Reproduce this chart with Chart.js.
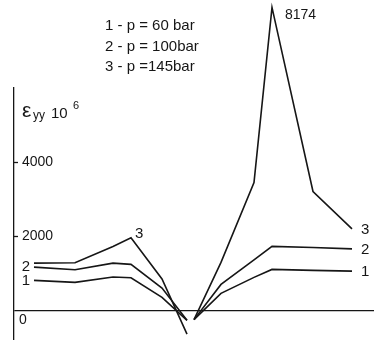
<!DOCTYPE html>
<html>
<head>
<meta charset="utf-8">
<script src="https://cdn.jsdelivr.net/npm/chart.js@4/dist/chart.umd.min.js"></script>
<style>
  html, body { margin: 0; padding: 0; background: #fff; }
  #wrap { width: 374px; height: 340px; position: relative; }
</style>
</head>
<body>
<div id="wrap"><canvas id="chart"></canvas></div>
<script>
// Gauge positions along the section (left and right of the gap)
const positionsLeft  = [20, 61, 99, 117, 148, 173];
const positionsRight = [180, 207, 240, 258, 299, 338];

// Strain eps_yy * 10^6 at each gauge
const series1Left  = [809, 755, 898, 881, 350, -270];
const series1Right = [-250, 458, 890, 1105, 1078, 1059];
const series2Left  = [1167, 1097, 1275, 1240, 600, -270];
const series2Right = [-250, 700, 1364, 1725, 1698, 1658];
const series3Left  = [1275, 1286, 1725, 1960, 846, -640];
const series3Right = [-250, 1294, 3450, 8174, 3208, 2197];

const seriesNames = ['1', '2', '3'];
const legendLines = ['1 - p = 60 bar', '2 - p = 100bar', '3 - p =145bar'];
const yTickValues = [0, 2000, 4000];
const peakLabel = '8174';

const FONT = '"Liberation Sans", Arial, sans-serif';
const INK = '#161616';

function buildPoints(posL, valL, posR, valR) {
  const pts = posL.map((x, i) => ({ x: x, y: valL[i] }));
  // break between the two halves
  pts.push({ x: (posL[posL.length - 1] + posR[0]) / 2, y: null });
  posR.forEach((x, i) => pts.push({ x: x, y: valR[i] }));
  return pts;
}

const lineStyle = {
  borderColor: INK,
  borderWidth: 1.6,
  pointRadius: 0,
  tension: 0,
  fill: false,
  spanGaps: false,
  clip: false
};

const datasets = [
  Object.assign({ label: seriesNames[0], data: buildPoints(positionsLeft, series1Left, positionsRight, series1Right) }, lineStyle),
  Object.assign({ label: seriesNames[1], data: buildPoints(positionsLeft, series2Left, positionsRight, series2Right) }, lineStyle),
  Object.assign({ label: seriesNames[2], data: buildPoints(positionsLeft, series3Left, positionsRight, series3Right) }, lineStyle)
];

// Text, tick marks and series numbers drawn on top of the plot
const annotations = {
  id: 'annotations',
  afterDraw(chart) {
    const { ctx, scales: { x, y } } = chart;
    ctx.save();
    ctx.fillStyle = INK;
    ctx.strokeStyle = INK;

    // short tick marks on the axis
    ctx.lineWidth = 1.3;
    yTickValues.filter(v => v !== 0).forEach(v => {
      const py = Math.round(y.getPixelForValue(v)) + 0.5;
      ctx.beginPath();
      ctx.moveTo(x.left - 1, py);
      ctx.lineTo(x.left + 4, py);
      ctx.stroke();
    });

    // zero label sits under the base line
    ctx.font = '14px ' + FONT;
    ctx.textAlign = 'left';
    ctx.textBaseline = 'middle';
    ctx.fillText('0', x.left + 5, y.getPixelForValue(0) + 10);

    // pressure key
    ctx.font = '15px ' + FONT;
    legendLines.forEach((t, i) => ctx.fillText(t, 105, 26 + i * 20.5));

    // axis title: eps_yy 10^6
    ctx.textBaseline = 'alphabetic';
    ctx.font = '21px ' + FONT;
    ctx.fillText('\u03B5', 22, 117);
    ctx.font = '12px ' + FONT;
    ctx.fillText('yy', 33, 119);
    ctx.font = '15px ' + FONT;
    ctx.fillText('10', 51, 118);
    ctx.font = '11px ' + FONT;
    ctx.fillText('6', 73, 109);

    // series numbers at the line ends
    ctx.font = '15px ' + FONT;
    ctx.textBaseline = 'middle';
    const lastR = positionsRight.length - 1;
    const rightEnds = [series1Right[lastR], series2Right[lastR], series3Right[lastR]];
    rightEnds.forEach((v, i) => {
      ctx.textAlign = 'left';
      ctx.fillText(seriesNames[i], x.getPixelForValue(positionsRight[lastR]) + 9, y.getPixelForValue(v) + 1);
    });
    ctx.textAlign = 'right';
    ctx.fillText(seriesNames[1], x.getPixelForValue(positionsLeft[0]) - 4, y.getPixelForValue(series2Left[0]));
    ctx.fillText(seriesNames[0], x.getPixelForValue(positionsLeft[0]) - 4, y.getPixelForValue(series1Left[0]));

    // "3" beside the left maximum of series 3
    const iMax = series3Left.indexOf(Math.max(...series3Left));
    ctx.textAlign = 'left';
    ctx.fillText(seriesNames[2], x.getPixelForValue(positionsLeft[iMax]) + 4, y.getPixelForValue(series3Left[iMax]) - 4);

    // peak value
    const iPeak = series3Right.indexOf(Math.max(...series3Right));
    ctx.font = '14px ' + FONT;
    ctx.fillText(peakLabel, x.getPixelForValue(positionsRight[iPeak]) + 13, y.getPixelForValue(series3Right[iPeak]) + 8);

    ctx.restore();
  }
};

new Chart(document.getElementById('chart'), {
  type: 'line',
  data: { datasets: datasets },
  options: {
    responsive: true,
    maintainAspectRatio: false,
    animation: false,
    events: [],
    layout: { padding: { top: 88, left: 14, right: 0, bottom: 0 } },
    plugins: { legend: { display: false }, tooltip: { enabled: false } },
    scales: {
      x: {
        type: 'linear',
        min: 0,
        max: 360,
        display: false
      },
      y: {
        type: 'linear',
        min: -800,
        max: 6000,
        afterBuildTicks: scale => { scale.ticks = yTickValues.map(v => ({ value: v })); },
        // labels sit inside the plot, so the axis takes no room of its own
        afterFit: scale => {
          scale.width = 0;
          scale.paddingTop = 0;
          scale.paddingBottom = 0;
          scale.paddingLeft = 0;
          scale.paddingRight = 0;
        },
        border: { display: true, color: INK, width: 1.3 },
        grid: {
          drawTicks: false,
          color: c => (c.tick && c.tick.value === 0 ? INK : 'rgba(0,0,0,0)'),
          lineWidth: 1.3
        },
        ticks: {
          mirror: true,
          padding: 8,
          color: INK,
          font: { family: FONT, size: 14 },
          callback: v => (v === 0 ? '' : String(v))
        }
      }
    }
  },
  plugins: [annotations]
});
</script>
</body>
</html>
